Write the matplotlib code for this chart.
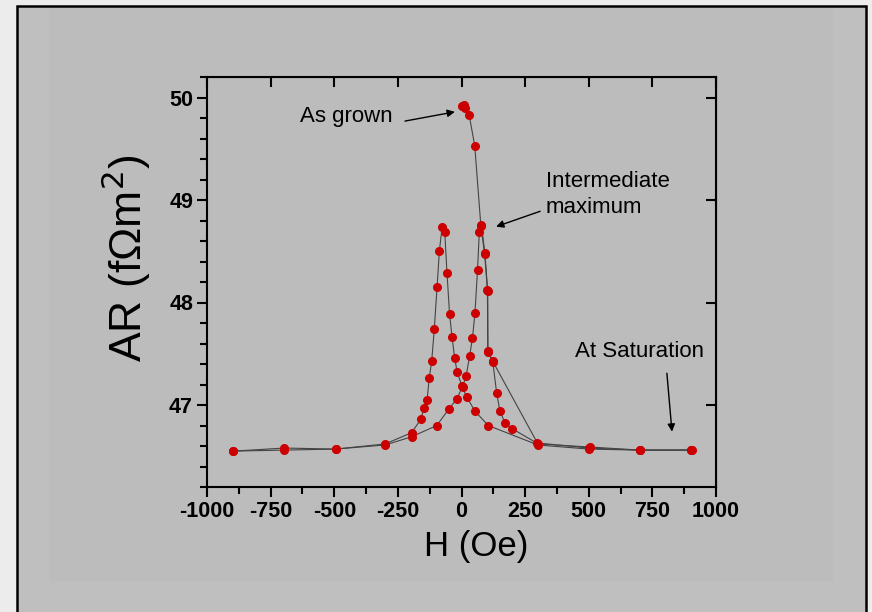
import matplotlib
matplotlib.use('Agg')
import matplotlib.pyplot as plt
from matplotlib.patches import Rectangle
from matplotlib.ticker import MultipleLocator

plt.rcParams['font.family'] = ['Liberation Sans', 'DejaVu Sans']
plt.rcParams['axes.unicode_minus'] = False

# as grown sweep (0 -> +900)
h_grown = [3, 9, 15, 30, 52, 76, 91, 102, 103, 122, 298, 500, 700, 900]
ar_grown = [49.92, 49.93, 49.90, 49.83, 49.53, 48.75, 48.47, 48.12, 47.53, 47.43, 46.63, 46.58, 46.56, 46.56]

# sweep down (+900 -> -900)
h_down = [900, 700, 500, 300, 105, 53, 20, 1, -17, -27, -37, -47, -57, -66, -76, -87, -96,
          -107, -117, -127, -135, -147, -160, -196, -300, -495, -696, -897]
ar_down = [46.56, 46.56, 46.57, 46.61, 46.80, 46.94, 47.08, 47.19, 47.32, 47.46, 47.66, 47.89,
           48.29, 48.69, 48.74, 48.50, 48.15, 47.74, 47.43, 47.26, 47.05, 46.97, 46.86, 46.73,
           46.62, 46.57, 46.56, 46.55]

# sweep up (-900 -> +900)
h_up = [-897, -696, -495, -300, -196, -97, -50, -18, 4, 18, 32, 43, 53, 63, 70, 78, 92, 103,
        104, 123, 138, 151, 172, 198, 302, 505, 701, 905]
ar_up = [46.55, 46.58, 46.57, 46.61, 46.69, 46.80, 46.96, 47.06, 47.18, 47.28, 47.48, 47.65,
         47.90, 48.32, 48.69, 48.76, 48.48, 48.11, 47.52, 47.42, 47.12, 46.94, 46.82, 46.77,
         46.62, 46.59, 46.56, 46.56]

fig = plt.figure(figsize=(8.72, 6.12), dpi=100, facecolor='#ececec')

# slide panel and pasted picture behind the chart
fig.patches.append(Rectangle((17 / 872, -0.02), 849 / 872, 1.02 - 6 / 612, transform=fig.transFigure,
                             facecolor='#bfbfbf', edgecolor='black', lw=1.8, zorder=-2))
fig.patches.append(Rectangle((49 / 872, 1 - 581 / 612), 784 / 872, 573 / 612, transform=fig.transFigure,
                             facecolor='#bcbcbc', edgecolor='none', zorder=-1))

ax = fig.add_axes([207 / 872, 1 - 487 / 612, 509 / 872, 410 / 612])
ax.set_facecolor('#bcbcbc')

for h, ar in [(h_grown, ar_grown), (h_down, ar_down), (h_up, ar_up)]:
    ax.plot(h, ar, color='#444444', lw=0.8, zorder=2)
for h, ar in [(h_grown, ar_grown), (h_down, ar_down), (h_up, ar_up)]:
    ax.plot(h, ar, ls='none', marker='o', ms=5.5, color='#cc0000', mec='#cc0000', zorder=3)

ax.set_xlim(-1000, 1000)
ax.set_ylim(46.2, 50.2)
ax.xaxis.set_major_locator(MultipleLocator(250))
ax.xaxis.set_minor_locator(MultipleLocator(125))
ax.yaxis.set_major_locator(MultipleLocator(1))
ax.yaxis.set_minor_locator(MultipleLocator(0.2))

for s in ax.spines.values():
    s.set_linewidth(1.5)
ax.tick_params(which='both', direction='out', width=1.5, labelsize=15.5, pad=3)
ax.tick_params(which='major', length=7)
ax.tick_params(which='minor', length=5)
ax.tick_params(which='minor', top=False, right=False)
for lab in ax.get_xticklabels() + ax.get_yticklabels():
    lab.set_fontweight('bold')

# inward major ticks on top and right
axt = ax.secondary_xaxis('top')
axt.xaxis.set_major_locator(MultipleLocator(250))
axt.tick_params(direction='in', length=7, width=1.5, labeltop=False)
axr = ax.secondary_yaxis('right')
axr.yaxis.set_major_locator(MultipleLocator(1))
axr.tick_params(direction='in', length=7, width=1.5, labelright=False)

ax.set_xlabel('H (Oe)', fontsize=25)
ax.xaxis.set_label_coords(0.528, -0.105)
ax.set_ylabel('AR (f\u03a9m$^2$)', fontsize=32)
ax.yaxis.set_label_coords(-0.106, 0.558)

arrow = dict(arrowstyle='-|>', color='black', lw=1.0, mutation_scale=11, shrinkA=0, shrinkB=0)
ax.text(-635, 49.81, 'As grown', fontsize=16, ha='left', va='center')
ax.annotate('', xy=(-26, 49.86), xytext=(-222, 49.77), arrowprops=arrow)
ax.text(332, 49.05, 'Intermediate\nmaximum', fontsize=16, ha='left', va='center', linespacing=1.3)
ax.annotate('', xy=(136, 48.74), xytext=(309, 48.89), arrowprops=arrow)
ax.text(446, 47.52, 'At Saturation', fontsize=16, ha='left', va='center')
ax.annotate('', xy=(827, 46.74), xytext=(807, 47.31), arrowprops=arrow)

fig.savefig('out.png', dpi=100, facecolor=fig.get_facecolor())
